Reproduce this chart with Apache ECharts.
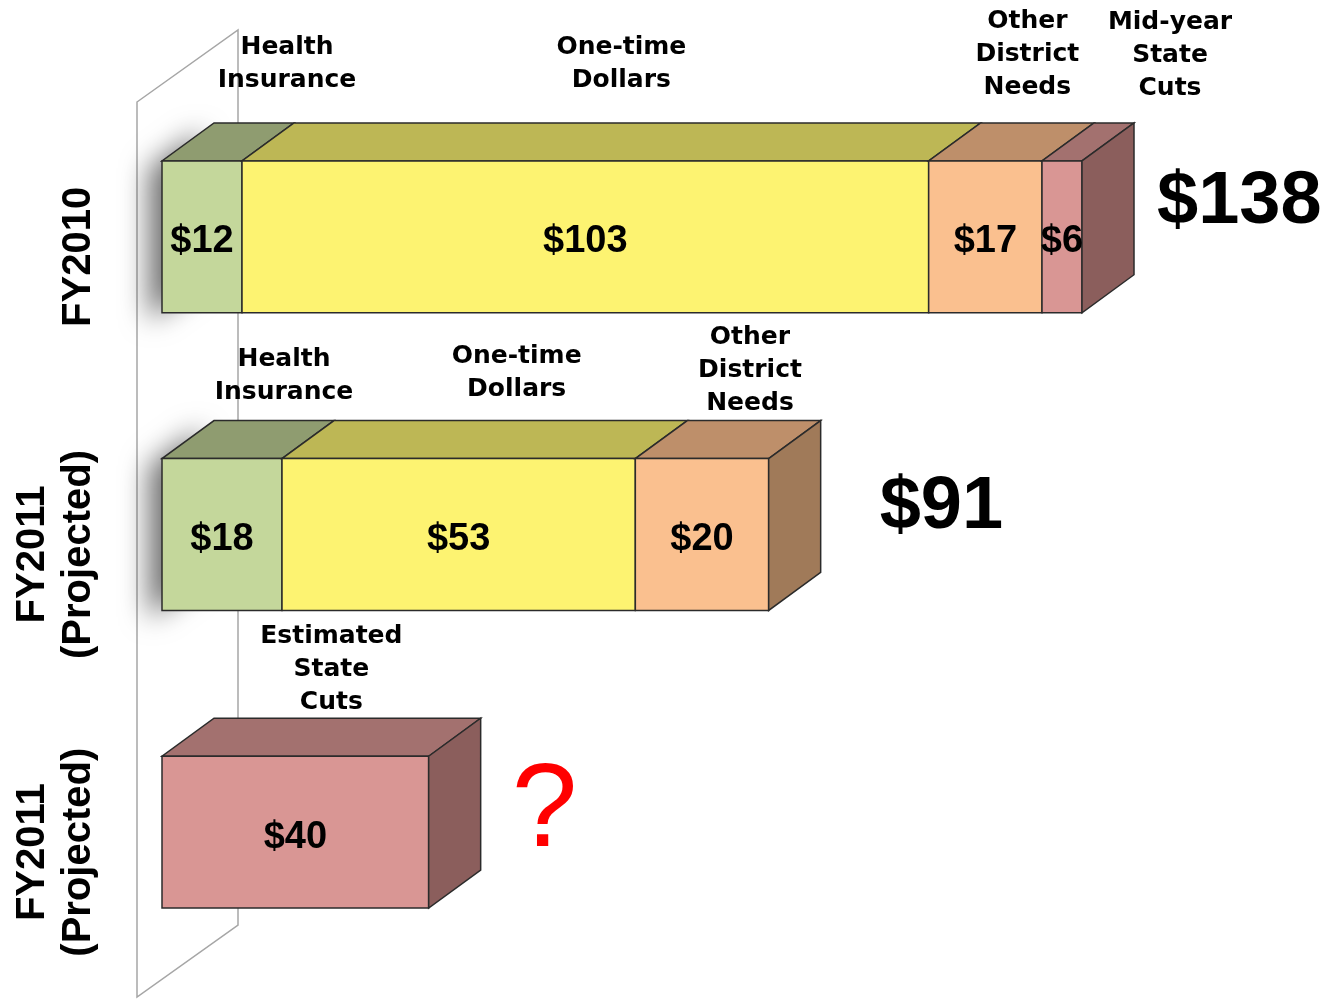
<!DOCTYPE html>
<html lang="en" style="height: 100%">
<head>
  <meta charset="utf-8">
</head>
<body style="height: 100%; margin: 0; background: #fff">
  <div id="container" style="height: 100%"></div>

  <script type="text/javascript" src="https://cdn.jsdelivr.net/npm/echarts@6/dist/echarts.min.js"></script>

  <script type="text/javascript">
    // rows of the chart (top to bottom)
    var categories = ['FY2010', 'FY2011\n(Projected)', 'FY2011\n(Projected)'];
    var partNames = ['Health\nInsurance', 'One-time\nDollars', 'Other\nDistrict\nNeeds', 'Mid-year\nState\nCuts', 'Estimated\nState\nCuts'];

    var fy2010 = [12, 103, 17, 6];
    var fy2010Parts = [0, 1, 2, 3];
    var fy2011 = [18, 53, 20];
    var fy2011Parts = [0, 1, 2];
    var fy2011Cuts = [40];
    var fy2011CutsParts = [4];

    var totals = ['$138', '$91', '?'];

    // ---- styling / layout (not data) ----
    var FONT = 'Liberation Sans, Arial, sans-serif';
    var DX = 52, DY = -38;              // depth of the boxes
    var frontColor = ['#C4D79B', '#FDF371', '#FAC08F', '#D99694', '#D99694'];
    var topColor   = ['#8F9C70', '#BDB755', '#BE8F6A', '#A3716F', '#A3716F'];
    var sideColor  = ['#6F7B50', '#A29C3E', '#A07A59', '#8B5E5C', '#8B5E5C'];
    // hand placed name labels in the original slide
    var nameShift = [[59, -26], [10, -26], [16, -19], [82, -18], [36, -12], [32, -15], [22, -1], [10, 1]];
    var totalShift = [[23, -15], [59, -8], [31, 0]];
    var totalStyle = [
      { fontSize: 74, fontWeight: 'bold', fill: '#000' },
      { fontSize: 74, fontWeight: 'bold', fill: '#000' },
      { fontSize: 118, fontWeight: 'normal', fill: '#FF0000' }
    ];

    var rows = [
      { values: fy2010, parts: fy2010Parts },
      { values: fy2011, parts: fy2011Parts },
      { values: fy2011Cuts, parts: fy2011CutsParts }
    ];

    // [start, end, row, part, isLast, value]
    var data = [];
    rows.forEach(function (row, r) {
      var acc = 0;
      row.values.forEach(function (v, j) {
        data.push([acc, acc + v, r, row.parts[j], j === row.values.length - 1 ? 1 : 0, v]);
        acc += v;
      });
    });

    function renderBox(params, api) {
      var start = api.value(0), end = api.value(1), r = api.value(2);
      var part = api.value(3), isLast = api.value(4), v = api.value(5);
      var p0 = api.coord([start, r]);
      var p1 = api.coord([end, r]);
      var h = api.size([0, 1])[1] * 0.51;
      var x0 = p0[0], x1 = p1[0];
      var yt = p0[1] - h / 2, yb = p0[1] + h / 2;
      var edge = { stroke: '#2b2b2b', lineWidth: 1.5 };
      var children = [];

      // soft shadow thrown on the back wall
      if (start === 0 && r < 2) {
        children.push({
          type: 'polygon',
          shape: { points: [[x0, yt], [x0 + DX, yt + DY], [x0 + DX, yb + DY], [x0, yb]] },
          style: { fill: 'rgba(0,0,0,0.6)', shadowBlur: 28, shadowColor: 'rgba(0,0,0,0.95)', shadowOffsetX: -13, shadowOffsetY: 8 }
        });
      }
      children.push({
        type: 'polygon',
        shape: { points: [[x0, yt], [x1, yt], [x1 + DX, yt + DY], [x0 + DX, yt + DY]] },
        style: Object.assign({ fill: topColor[part] }, edge)
      });
      children.push({
        type: 'rect',
        shape: { x: x0, y: yt, width: x1 - x0, height: yb - yt },
        style: Object.assign({ fill: frontColor[part] }, edge)
      });
      if (isLast) {
        children.push({
          type: 'polygon',
          shape: { points: [[x1, yt], [x1 + DX, yt + DY], [x1 + DX, yb + DY], [x1, yb]] },
          style: Object.assign({ fill: sideColor[part] }, edge)
        });
      }
      // value inside the front face
      children.push({
        type: 'text',
        x: (x0 + x1) / 2, y: (yt + yb) / 2 + 5,
        style: { text: '$' + v, fontSize: 38, fontWeight: 'bold', fontFamily: FONT, fill: '#000', align: 'center', verticalAlign: 'middle' }
      });
      // part name above the box
      var ns = nameShift[params.dataIndex];
      children.push({
        type: 'text',
        x: (x0 + x1) / 2 + DX / 2 + ns[0], y: yt + DY + ns[1],
        style: { text: partNames[part], fontSize: 25, fontWeight: 'bold', fontFamily: 'DejaVu Sans, sans-serif', lineHeight: 33, fill: '#000', align: 'center', verticalAlign: 'bottom' }
      });
      if (isLast) {
        var ts = totalShift[r];
        children.push({
          type: 'text',
          x: x1 + DX + ts[0], y: (yt + DY + yb) / 2 + ts[1],
          style: Object.assign({ text: totals[r], fontFamily: FONT, align: 'left', verticalAlign: 'middle' }, totalStyle[r])
        });
      }
      return { type: 'group', children: children };
    }

    var dom = document.getElementById('container');
    var myChart = echarts.init(dom, null, { renderer: 'canvas' });

    var option = {
      animation: false,
      backgroundColor: '#fff',
      graphic: [
        {
          type: 'polygon',
          z: 0,
          shape: { points: [[137, 102], [238, 30], [238, 925], [137, 997]] },
          style: { fill: '#fff', stroke: '#a6a6a6', lineWidth: 1.5 }
        }
      ],
      grid: { left: 162, top: 88, height: 893, width: 1000 },
      xAxis: {
        type: 'value',
        min: 0,
        max: 150,
        show: false
      },
      yAxis: {
        type: 'category',
        inverse: true,
        data: categories,
        axisLine: { show: false },
        axisTick: { show: false },
        splitLine: { show: false },
        axisLabel: {
          rotate: 90,
          margin: 60,
          fontSize: 40,
          fontWeight: 'bold',
          fontFamily: FONT,
          lineHeight: 46,
          padding: [0, 40, 0, 0],
          color: '#000'
        }
      },
      series: [
        {
          type: 'custom',
          renderItem: renderBox,
          clip: false,
          encode: { x: [0, 1], y: 2 },
          data: data
        }
      ]
    };

    myChart.setOption(option);
    window.addEventListener('resize', myChart.resize);
  </script>
</body>
</html>
